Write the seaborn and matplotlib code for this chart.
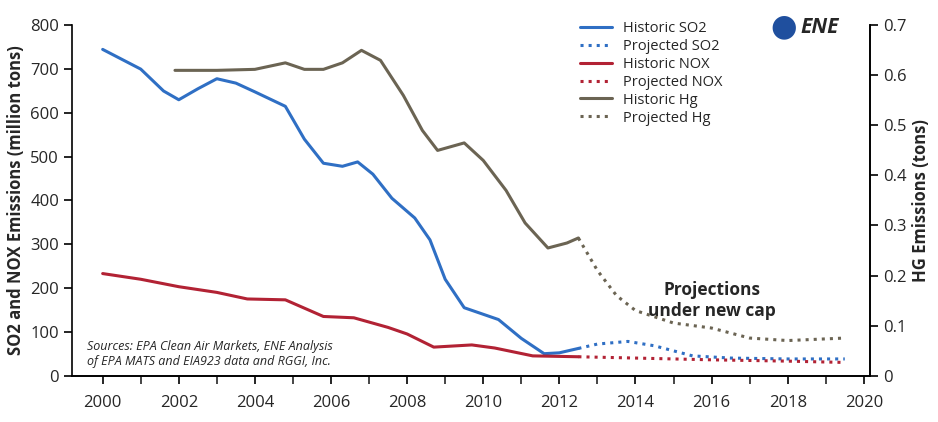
import matplotlib
matplotlib.use("Agg")
import matplotlib.pyplot as plt
import seaborn as sns
import pandas as pd

so2_years = [2000, 2001, 2001.6, 2002, 2002.5, 2003, 2003.5, 2004, 2004.8, 2005.3, 2005.8, 2006.3, 2006.7, 2007.1, 2007.6, 2008.2, 2008.6, 2009.0, 2009.5, 2010.0, 2010.4, 2011.0, 2011.6, 2012.0, 2012.5]
so2_vals = [745, 700, 650, 630, 655, 678, 668, 648, 615, 540, 485, 478, 488, 460, 405, 360, 310, 220, 155, 140, 128, 85, 50, 52, 62]
so2p_years = [2012.5, 2013.0, 2013.8, 2014.5, 2015.5, 2016.5, 2018.0, 2019.5]
so2p_vals = [62, 72, 78, 68, 45, 40, 38, 38]
nox_years = [2000, 2001, 2002, 2003, 2003.8, 2004.8, 2005.8, 2006.6, 2007.5, 2008.0, 2008.7, 2009.7, 2010.3, 2011.3, 2012.5]
nox_vals = [233, 220, 203, 190, 175, 173, 135, 132, 110, 95, 65, 70, 63, 45, 43]
noxp_years = [2012.5, 2014.0, 2016.0, 2018.0, 2019.5]
noxp_vals = [43, 40, 36, 33, 30]
hg_years = [2001.9, 2003.0, 2004.0, 2004.8, 2005.3, 2005.8, 2006.3, 2006.8, 2007.3, 2007.9, 2008.4, 2008.8, 2009.5, 2010.0, 2010.6, 2011.1, 2011.7, 2012.2, 2012.5]
hg_vals = [0.61, 0.61, 0.612, 0.625, 0.612, 0.612, 0.625, 0.65, 0.63, 0.56, 0.49, 0.45, 0.465, 0.43, 0.37, 0.305, 0.255, 0.265, 0.275]
hgp_years = [2012.5, 2013.0, 2013.5, 2014.0, 2015.0, 2016.0, 2017.0, 2018.0, 2019.5]
hgp_vals = [0.275, 0.21, 0.16, 0.13, 0.105, 0.095, 0.075, 0.07, 0.075]

BLUE, RED, GRAY = "#2f6fc4", "#b22234", "#6b6453"

sns.set_style("white")
plt.rcParams['font.family'] = ['Open Sans', 'DejaVu Sans']
fig, ax = plt.subplots(figsize=(9.38, 4.22), dpi=100)
fig.subplots_adjust(left=0.077, right=0.927, top=0.94, bottom=0.11)
ax2 = ax.twinx()

def ln(a, x, y, c, ls, lab):
    sns.lineplot(x=x, y=y, ax=a, color=c, lw=2.2 if ls == '-' else 2.2, linestyle=ls, label=lab, legend=False)

ln(ax, so2_years, so2_vals, BLUE, '-', 'Historic SO2')
ln(ax, so2p_years, so2p_vals, BLUE, ':', 'Projected SO2')
ln(ax, nox_years, nox_vals, RED, '-', 'Historic NOX')
ln(ax, noxp_years, noxp_vals, RED, ':', 'Projected NOX')
ln(ax2, hg_years, hg_vals, GRAY, '-', 'Historic Hg')
ln(ax2, hgp_years, hgp_vals, GRAY, ':', 'Projected Hg')

ax.set_xlim(1999.2, 2020.15)
ax.set_ylim(0, 800)
ax2.set_ylim(0, 0.7)
ax.set_xticks(range(2000, 2021, 2))
ax.set_xticks(range(2000, 2021), minor=True)
ax.set_yticks(range(0, 801, 100))
ax2.set_yticks([0, 0.1, 0.2, 0.3, 0.4, 0.5, 0.6, 0.7])
ax2.set_yticklabels(['0', '0.1', '0.2', '0.3', '0.4', '0.5', '0.6', '0.7'])
for a in (ax, ax2):
    a.spines['top'].set_visible(False)
    for s in a.spines.values():
        s.set_color('black'); s.set_linewidth(1.2)
    a.tick_params(labelsize=12, length=6, width=1.2, color='black', direction='out')
ax.tick_params(axis='x', which='minor', length=6, width=1.2, bottom=True)
ax.tick_params(axis='x', which='major', pad=8, bottom=True)
ax.tick_params(axis='y', left=True)
ax2.tick_params(axis='y', right=True)
ax2.spines['left'].set_visible(False)
ax.set_ylabel('SO2 and NOX Emissions (million tons)', fontsize=12, fontweight='bold')
ax2.set_ylabel('HG Emissions (tons)', fontsize=12, fontweight='bold')

h1, l1 = ax.get_legend_handles_labels()
h2, l2 = ax2.get_legend_handles_labels()
ax2.legend(h1 + h2, l1 + l2, loc='upper left', bbox_to_anchor=(0.62, 1.05), frameon=False,
           fontsize=10.5, handlelength=2.2, labelspacing=0.2)

ax.text(2016.0, 215, 'Projections\nunder new cap', ha='center', va='top', fontsize=12.5, fontweight='bold', linespacing=1.2)
ax.text(1999.6, 18, 'Sources: EPA Clean Air Markets, ENE Analysis\nof EPA MATS and EIA923 data and RGGI, Inc.',
        fontsize=9, style='italic', ha='left', va='bottom', linespacing=1.2)

fig.text(0.835, 0.935, '●', color='#1f4f9e', fontsize=22, ha='center', va='center')
fig.text(0.853, 0.935, 'ENE', fontsize=15, fontweight='bold', style='italic', ha='left', va='center')
fig.savefig('out.png', dpi=100)
